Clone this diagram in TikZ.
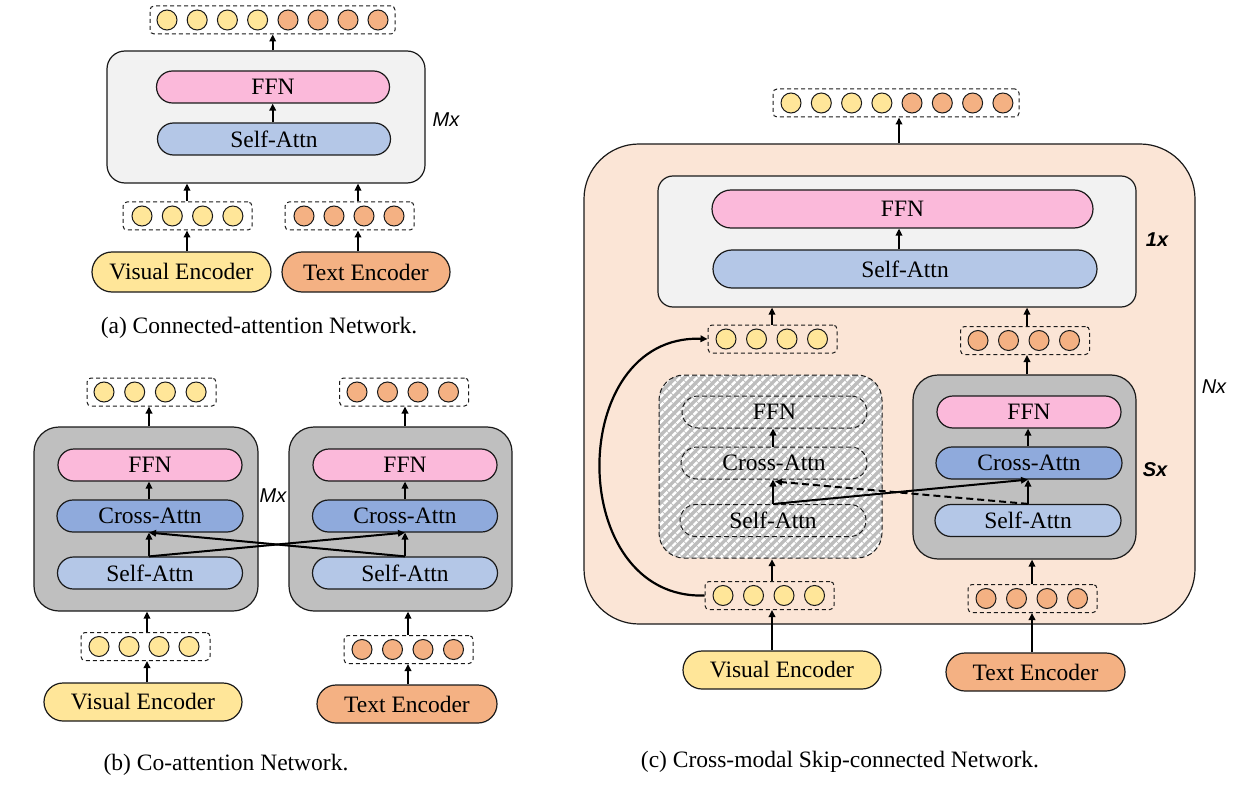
\documentclass[tikz,border=0pt]{standalone}
\usepackage{fontspec}
\setmainfont{Liberation Serif}
\newfontfamily\sflab{Liberation Sans}
\usetikzlibrary{arrows.meta,patterns.meta,calc}
\definecolor{cyel}{HTML}{FFE699}
\definecolor{corg}{HTML}{F4B183}
\definecolor{cpink}{HTML}{FBB9DA}
\definecolor{cself}{HTML}{B4C7E7}
\definecolor{ccross}{HTML}{8FAADC}
\definecolor{clgray}{HTML}{F2F2F2}
\definecolor{cgray}{HTML}{BFBFBF}
\definecolor{cpeach}{HTML}{FBE5D6}
\definecolor{chatch}{HTML}{BDBDBD}
\definecolor{cline}{HTML}{1A1A1A}
\tikzset{
  txt/.style={font=\fontsize{23.5}{28}\selectfont, inner sep=0pt},
  pill/.style={txt, draw=cline, line width=1.2pt, rectangle, rounded corners=16pt, minimum height=32pt},
  bigpill/.style={txt, draw=cline, line width=1.2pt, rectangle, rounded corners=19pt, minimum height=38pt},
  dpill/.style={txt, draw=cline, line width=1pt, dash pattern=on 5pt off 3pt, rectangle, rounded corners=16pt, minimum height=32pt},
  tok/.style={draw=cline, line width=1pt, dash pattern=on 4pt off 3pt, rectangle, rounded corners=4pt, minimum width=129pt, minimum height=28pt, inner sep=0pt},
  ydot/.style={circle, draw=cline, line width=1pt, fill=cyel, minimum size=20pt, inner sep=0pt},
  odot/.style={circle, draw=cline, line width=1pt, fill=corg, minimum size=20pt, inner sep=0pt},
  lbox/.style={draw=cline, line width=1.2pt, fill=clgray, rectangle, rounded corners=18pt},
  gbox/.style={draw=cline, line width=1.2pt, fill=cgray, rectangle, rounded corners=25pt},
  arr/.style={draw=black, line width=2pt, -{Triangle[length=7pt,width=6.5pt]}},
  lab/.style={font=\sflab\itshape\fontsize{20}{24}\selectfont, inner sep=0pt},
  blab/.style={font=\sflab\bfseries\itshape\fontsize{20}{24}\selectfont, inner sep=0pt}
}
\begin{document}
\begin{tikzpicture}[x=1pt,y=-1pt]
\useasboundingbox (0,0) rectangle (1244,786);

% ================= (a) =================
\node[lbox, minimum width=318pt, minimum height=132pt] (agray) at (266,117) {};
\node[pill, fill=cpink, minimum width=233pt] (affn) at (273,87) {FFN};
\node[pill, fill=cself, minimum width=233pt] (aself) at (274,139) {Self-Attn};
\node[lab] (amx) at (446,120) {Mx};
\node[tok, minimum width=245pt] (aout) at (272.5,20) {};
\foreach \i in {0,...,3} \node[ydot] (aoy\i) at (167+30.2*\i,20) {};
\foreach \i in {0,...,3} \node[odot] (aoo\i) at (288+30*\i,20) {};
\node[tok] (avtok) at (187.5,216) {};
\foreach \i in {0,...,3} \node[ydot] (avt\i) at (142+30.3*\i,216) {};
\node[tok] (attok) at (349.5,216) {};
\foreach \i in {0,...,3} \node[odot] (att\i) at (304+30*\i,216) {};
\node[txt, draw=cline, line width=1.2pt, fill=cyel, rounded corners=20pt, minimum width=179pt, minimum height=40pt] (avenc) at (181.5,272) {Visual Encoder};
\node[txt, draw=cline, line width=1.2pt, fill=corg, rounded corners=20pt, minimum width=168pt, minimum height=40pt] (atenc) at (366,272) {Text Encoder};
\coordinate (ax0) at (272.7,0);
\coordinate (ax1) at (187,0);
\coordinate (ax2) at (358,0);
\draw[arr] (ax0 |- agray.north) -- (ax0 |- aout.south);
\draw[arr] (ax0 |- aself.north) -- (ax0 |- affn.south);
\draw[arr] (ax1 |- avenc.north) -- (ax1 |- avtok.south);
\draw[arr] (ax1 |- avtok.north) -- (ax1 |- agray.south);
\draw[arr] (ax2 |- atenc.north) -- (ax2 |- attok.south);
\draw[arr] (ax2 |- attok.north) -- (ax2 |- agray.south);
\node[txt] (capa) at (259,328) {(a) Connected-attention Network.};

% ================= (b) =================
\node[gbox, minimum width=224pt, minimum height=184pt] (blg) at (146,519) {};
\node[gbox, minimum width=223pt, minimum height=184pt] (brg) at (400.5,519) {};
\node[pill, fill=cpink, minimum width=184pt] (blffn) at (150,465) {FFN};
\node[pill, fill=ccross, minimum width=186pt] (blcross) at (150,516) {Cross-Attn};
\node[pill, fill=cself, minimum width=185pt] (blself) at (150,573) {Self-Attn};
\node[pill, fill=cpink, minimum width=184pt] (brffn) at (405,465) {FFN};
\node[pill, fill=ccross, minimum width=185pt] (brcross) at (405,516) {Cross-Attn};
\node[pill, fill=cself, minimum width=185pt] (brself) at (405,573) {Self-Attn};
\node[lab] (bmx) at (273,496) {Mx};
\node[tok] (bvout) at (151.5,392) {};
\foreach \i in {0,...,3} \node[ydot] (bvo\i) at (104+30.7*\i,392) {};
\node[tok] (btout) at (404,392) {};
\foreach \i in {0,...,3} \node[odot] (bto\i) at (357+30.5*\i,392) {};
\node[tok] (bvtok) at (145.5,646.5) {};
\foreach \i in {0,...,3} \node[ydot] (bvt\i) at (99+30*\i,646.5) {};
\node[tok] (bttok) at (408.5,649.5) {};
\foreach \i in {0,...,3} \node[odot] (btt\i) at (362+30.5*\i,649.5) {};
\node[txt, draw=cline, line width=1.2pt, fill=cyel, rounded corners=19pt, minimum width=198pt, minimum height=38pt] (bvenc) at (143,702) {Visual Encoder};
\node[txt, draw=cline, line width=1.2pt, fill=corg, rounded corners=19pt, minimum width=180pt, minimum height=38pt] (btenc) at (407,704) {Text Encoder};
\coordinate (bx1) at (149,0);
\coordinate (bx2) at (405,0);
\coordinate (bx3) at (147,0);
\coordinate (bx4) at (408,0);
\draw[arr] (bx1 |- blg.north) -- (bx1 |- bvout.south);
\draw[arr] (bx2 |- brg.north) -- (bx2 |- btout.south);
\draw[arr] (bx1 |- blcross.north) -- (bx1 |- blffn.south);
\draw[arr] (bx2 |- brcross.north) -- (bx2 |- brffn.south);
\draw[arr] (bx1 |- blself.north) -- (bx1 |- blcross.south);
\draw[arr] (bx2 |- brself.north) -- (bx2 |- brcross.south);
\draw[arr] (bx1 |- blself.north) -- (bx2 |- brcross.south);
\draw[arr] (bx2 |- brself.north) -- (bx1 |- blcross.south);
\draw[arr] (bx3 |- bvtok.north) -- (bx3 |- blg.south);
\draw[arr] (bx4 |- bttok.north) -- (bx4 |- brg.south);
\draw[arr] (bx3 |- bvenc.north) -- (bx3 |- bvtok.south);
\draw[arr] (bx4 |- btenc.north) -- (bx4 |- bttok.south);
\node[txt] (capb) at (226,765) {(b) Co-attention Network.};

% ================= (c) =================
\node[draw=cline, line width=1.2pt, fill=cpeach, rectangle, rounded corners=55pt, minimum width=611pt, minimum height=480pt] (cbig) at (889.5,384) {};
\node[lab] (cnx) at (1214,387) {Nx};
\node[lbox, rounded corners=15pt, minimum width=478pt, minimum height=131pt] (c1box) at (897,241.5) {};
\node[bigpill, fill=cpink, minimum width=381pt] (cffn) at (902.5,209) {FFN};
\node[bigpill, fill=cself, minimum width=384pt] (cself) at (905,269) {Self-Attn};
\node[blab] (c1x) at (1157,240) {1x};
\node[tok, minimum width=246pt] (cout) at (896,103) {};
\foreach \i in {0,...,3} \node[ydot] (coy\i) at (791+30.3*\i,103) {};
\foreach \i in {0,...,3} \node[odot] (coo\i) at (912+30.3*\i,103) {};
% hatched (skipped) block
\node[draw=cline, line width=1pt, dash pattern=on 5pt off 3pt, rectangle, rounded corners=25pt, minimum width=223pt, minimum height=183pt, preaction={fill=chatch}, pattern={Lines[angle=45,distance=6pt,line width=2.4pt]}, pattern color=white] (chb) at (770.5,466.5) {};
\node[dpill, minimum width=185pt] (chffn) at (774.5,412) {FFN};
\node[dpill, minimum width=186pt] (chcross) at (774,463) {Cross-Attn};
\node[dpill, minimum width=186pt] (chself) at (773,520.5) {Self-Attn};
% gray block
\node[gbox, minimum width=223pt, minimum height=184pt] (cgb) at (1024.5,467) {};
\node[pill, fill=cpink, minimum width=184pt] (cgffn) at (1029,412) {FFN};
\node[pill, fill=ccross, minimum width=186pt] (cgcross) at (1029,463) {Cross-Attn};
\node[pill, fill=cself, minimum width=186pt] (cgself) at (1028,520.5) {Self-Attn};
\node[blab] (csx) at (1155,470) {Sx};
% tokens
\node[tok] (clmid) at (772.5,339) {};
\foreach \i in {0,...,3} \node[ydot] (clm\i) at (726+30.5*\i,339) {};
\node[tok] (crmid) at (1025,340.5) {};
\foreach \i in {0,...,3} \node[odot] (crm\i) at (978+30.5*\i,340.5) {};
\node[tok] (clbot) at (769.5,595.5) {};
\foreach \i in {0,...,3} \node[ydot] (clb\i) at (723+30.5*\i,595.5) {};
\node[tok] (crbot) at (1032.5,598.5) {};
\foreach \i in {0,...,3} \node[odot] (crb\i) at (986+30.5*\i,598.5) {};
\node[txt, draw=cline, line width=1.2pt, fill=cyel, rounded corners=19pt, minimum width=198pt, minimum height=38pt] (cvenc) at (782,670) {Visual Encoder};
\node[txt, draw=cline, line width=1.2pt, fill=corg, rounded corners=19pt, minimum width=179pt, minimum height=38pt] (ctenc) at (1035.5,672) {Text Encoder};
\coordinate (cx0) at (899,0);
\coordinate (cx1) at (772,0);
\coordinate (cx2) at (1027,0);
\coordinate (cx3) at (773,0);
\coordinate (cx4) at (1028,0);
\coordinate (cx5) at (1032,0);
\draw[arr] (cx0 |- cbig.north) -- (cx0 |- cout.south);
\draw[arr] (cx0 |- cself.north) -- (cx0 |- cffn.south);
\draw[arr] (cx1 |- clmid.north) -- (cx1 |- c1box.south);
\draw[arr] (cx2 |- crmid.north) -- (cx2 |- c1box.south);
\draw[arr] (cx2 |- cgb.north) -- (cx2 |- crmid.south);
\draw[arr] (cx3 |- chcross.north) -- (cx3 |- chffn.south);
\draw[arr] (cx4 |- cgcross.north) -- (cx4 |- cgffn.south);
\draw[arr] (cx3 |- chself.north) -- (cx3 |- chcross.south);
\draw[arr] (cx4 |- cgself.north) -- (cx4 |- cgcross.south);
\draw[arr] (cx3 |- chself.north) -- (cx4 |- cgcross.south);
\draw[arr, dashed, dash pattern=on 7pt off 4pt] (cx4 |- cgself.north) -- ($(cx3 |- chcross.south)+(2,2)$);
\draw[arr] (cx1 |- clbot.north) -- (cx1 |- chb.south);
\draw[arr] (cx5 |- crbot.north) -- (cx5 |- cgb.south);
\draw[arr, line width=2.4pt] (cx1 |- cvenc.north) -- (cx1 |- clbot.south);
\draw[arr, line width=2.4pt] (cx5 |- ctenc.north) -- (cx5 |- crbot.south);
\draw[arr, line width=2.2pt] (clbot.west) .. controls (565,600) and (565,334) .. (clmid.west);
\node[txt] (capc) at (840,762) {(c) Cross-modal Skip-connected Network.};
\end{tikzpicture}
\end{document}
